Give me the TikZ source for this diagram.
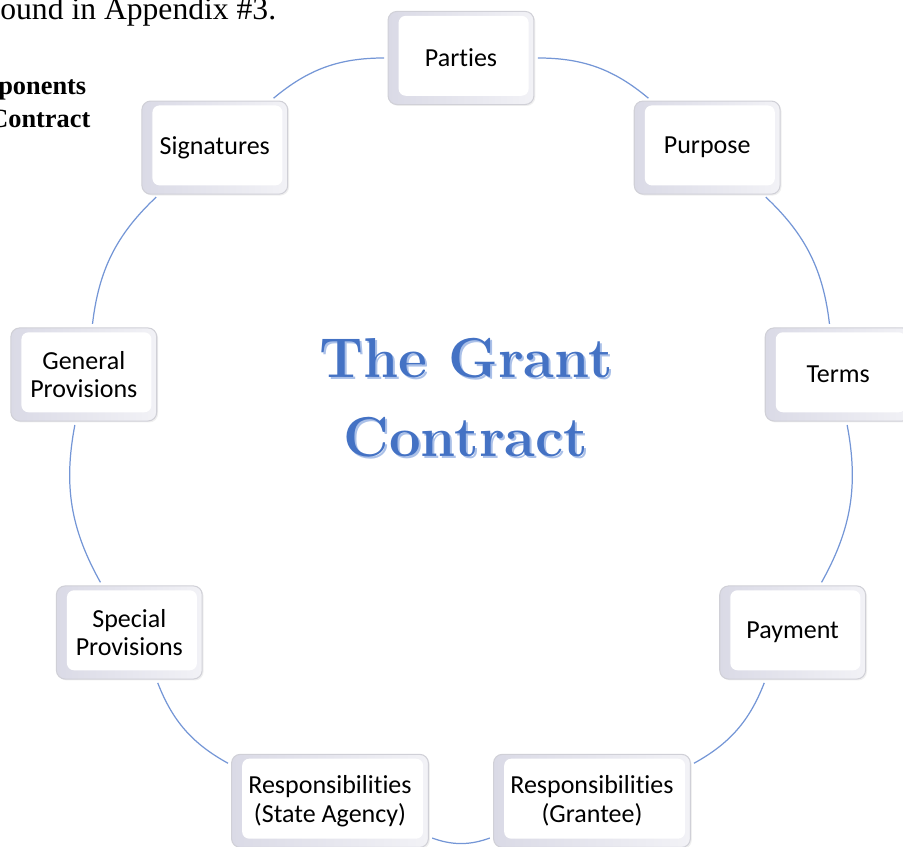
\documentclass[tikz,border=0pt]{standalone}
\usepackage{fontspec}
\newfontfamily\boxfont{Carlito}[Ligatures=NoCommon]
\newfontfamily\docfont{Liberation Serif}
\usetikzlibrary{shadows}

\definecolor{ringblue}{RGB}{116,150,214}
\definecolor{titleblue}{RGB}{68,114,196}
\definecolor{titleshade}{RGB}{170,192,232}
\definecolor{keyedge}{RGB}{208,208,215}
\definecolor{keyside}{RGB}{218,218,230}

\tikzset{
  keycap/.style={rounded corners=5pt, draw=keyedge, line width=0.6pt, fill=white,
    minimum width=83pt, minimum height=53pt, align=center, inner sep=0pt,
    font=\boxfont\fontsize{14.8}{16.4}\selectfont,
    drop shadow={opacity=0.12, shadow xshift=0.8pt, shadow yshift=-0.8pt},
    path picture={
      \fill[left color=keyside, right color=keyside!35] (path picture bounding box.south west) rectangle (path picture bounding box.north east);
      \fill[white, rounded corners=4pt] ([xshift=6pt,yshift=5pt]path picture bounding box.south west) rectangle ([xshift=-3pt,yshift=-2.5pt]path picture bounding box.north east);
    }},
  widecap/.style={keycap, minimum width=112pt},
  ring/.style={draw=ringblue, line width=0.7pt, shorten <=2pt, shorten >=2pt},
  titletext/.style={font=\bfseries\fontsize{32}{45}\selectfont, align=center, inner sep=0pt},
  pagetext/.style={anchor=base west, inner sep=0pt},
}

\begin{document}
\begin{tikzpicture}[x=0.02cm, y=0.02cm]
  \useasboundingbox (-461,-406) rectangle (442,441);
  \clip (-461,-406) rectangle (442,441);

  % running text of the page around the figure
  \node[pagetext, font=\docfont\fontsize{18}{20}\selectfont] (appx) at (-461,421) {ound in Appendix \#3.};
  \node[pagetext, font=\docfont\bfseries\fontsize{15}{18}\selectfont] (capa) at (-463,346) {ponents};
  \node[pagetext, font=\docfont\bfseries\fontsize{15}{18}\selectfont] (capb) at (-472,313) {Contract};

  % the nine parts, clockwise from the top
  \node[keycap] (parties) at (90:383) {Parties};
  \node[keycap] (purpose) at (50:383) {Purpose};
  \node[keycap] (terms) at (10:383) {Terms};
  \node[keycap] (payment) at (-30:383) {Payment};
  \node[widecap] (grantee) at (-70:383) {Responsibilities\\(Grantee)};
  \node[widecap] (agency) at (-110:383) {Responsibilities\\(State Agency)};
  \node[keycap] (special) at (-150:383) {Special\\Provisions};
  \node[keycap] (general) at (170:383) {General\\Provisions};
  \node[keycap] (signatures) at (130:383) {Signatures};

  % ring between neighbours
  \foreach \a/\b in {parties/purpose, purpose/terms, terms/payment, payment/grantee,
                     grantee/agency, agency/special, special/general, general/signatures,
                     signatures/parties}
    \draw[ring] (\a) to[bend left=20] (\b);

  % title in the middle
  \node[titletext, text=titleshade] (titleshadow) at (7,41) {The Grant\\Contract};
  \node[titletext, text=titleblue] (title) at (5,43) {The Grant\\Contract};
\end{tikzpicture}
\end{document}
